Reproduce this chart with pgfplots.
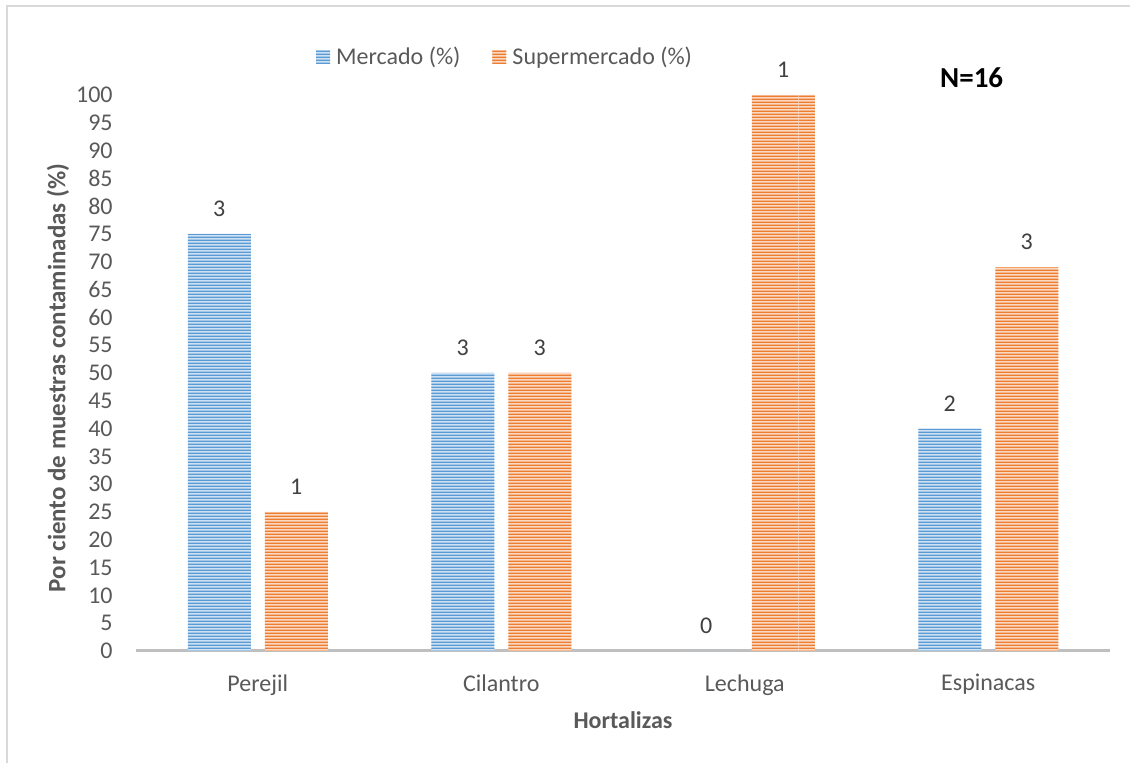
\documentclass[border=0pt]{standalone}
\usepackage{fontspec}
\setmainfont{Carlito}
\usepackage{pgfplots}
\pgfplotsset{compat=1.18}
\usetikzlibrary{patterns}

\definecolor{mblue}{HTML}{5B9BD5}
\definecolor{morange}{HTML}{ED7D31}
\definecolor{ticktext}{HTML}{595959}
\definecolor{valtext}{HTML}{404040}
\definecolor{axisgray}{HTML}{BFBFBF}
\definecolor{framegray}{HTML}{D9D9D9}

% Porcentaje de muestras contaminadas; meta = numero de muestras positivas
\pgfplotstableread{
x  y    n
0  75   3
1  50   3
2  0    0
3  40   2
}\mercado
\pgfplotstableread{
x  y    n
0  25   1
1  50   3
2  100  1
3  69   3
}\supermercado

% wide horizontal stripe tile
\pgfdeclarepatternformonly{hstripes}{\pgfpointorigin}{\pgfpoint{200pt}{1.65pt}}{\pgfpoint{200pt}{1.65pt}}{%
  \pgfpathrectangle{\pgfpointorigin}{\pgfpoint{200pt}{0.85pt}}%
  \pgfusepath{fill}%
}

\tikzset{
  stripes/.style={
    fill=#1!30,
    draw=none,
    postaction={pattern=hstripes, pattern color=#1}
  }
}

\begin{document}
\begin{tikzpicture}
\useasboundingbox (0,0) rectangle (565pt,381.5pt);
\draw[framegray, line width=0.8pt] (3.5pt,-10pt) rectangle (600pt,378.5pt);
\begin{axis}[
  at={(68pt,56pt)}, anchor=south west,
  scale only axis,
  width=487pt, height=278pt,
  xmin=-0.5, xmax=3.5,
  ymin=0, ymax=100,
  clip=false,
  ybar,
  bar width=31.5pt,
  axis y line=left,
  y axis line style={draw=none, -},
  axis x line=bottom,
  x axis line style={draw=axisgray, line width=1.5pt, -},
  major tick length=0pt,
  xtick={0,1,2,3},
  xticklabels={Perejil,Cilantro,Lechuga,Espinacas},
  ytick distance=5,
  /pgf/number format/assume math mode=true,
  tick label style={font=\fontsize{12}{14}\selectfont, text=ticktext},
  yticklabel style={anchor=east, inner sep=0pt, xshift=-11.5pt},
  xticklabel style={anchor=north, inner sep=0pt, yshift=-11.5pt},
  xlabel={Hortalizas},
  ylabel={Por ciento de muestras contaminadas (\%)},
  label style={text=ticktext},
  xlabel style={font=\bfseries\fontsize{12}{14}\selectfont, at={(axis description cs:0.5,-0.124)}, anchor=center},
  ylabel style={font=\bfseries\fontsize{12.5}{14}\selectfont, at={(axis description cs:-0.080,0.491)}, anchor=center, rotate=0},
  nodes near coords={\pgfmathprintnumber{\pgfplotspointmeta}},
  point meta=explicit,
  nodes near coords style={font=\fontsize{12}{14}\selectfont, text=valtext, anchor=south, inner sep=0pt, yshift=8.5pt},
  legend columns=2,
  legend style={draw=none, fill=none, at={(0.381,1.068)}, anchor=center,
    font=\fontsize{12}{14}\selectfont, text=ticktext,
    /tikz/every even column/.append style={column sep=13pt},
    nodes={inner sep=3pt}},
  legend image code/.code={\path[#1] (0pt,-3.5pt) rectangle (7pt,3.5pt);},
]
\addplot[stripes=mblue, bar shift=-19.25pt] table[x=x, y=y, meta=n] {\mercado};
\addlegendentry{Mercado (\%)}
\addplot[stripes=morange, bar shift=19.25pt] table[x=x, y=y, meta=n] {\supermercado};
\addlegendentry{Supermercado (\%)}
\node[font=\bfseries\fontsize{14.5}{17}\selectfont, text=black] at (axis description cs:0.858,1.031) {N=16};
\end{axis}
\end{tikzpicture}
\end{document}
